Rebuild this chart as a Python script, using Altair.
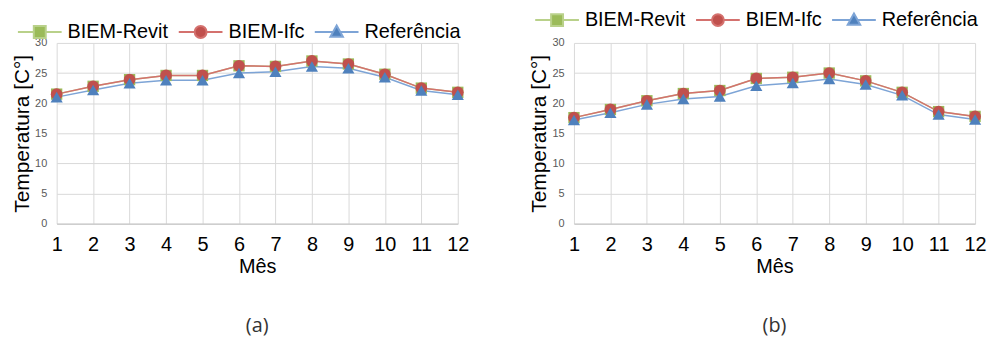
import altair as alt
import pandas as pd

months = list(range(1, 13))
series = ["BIEM-Revit", "BIEM-Ifc", "Referência"]

a_revit = [21.5, 22.8, 23.9, 24.6, 24.6, 26.2, 26.1, 27.0, 26.5, 24.8, 22.5, 21.8]
a_ifc = [21.5, 22.8, 23.9, 24.6, 24.6, 26.2, 26.1, 27.0, 26.5, 24.8, 22.5, 21.8]
a_ref = [21.0, 22.2, 23.3, 23.8, 23.8, 25.0, 25.2, 26.1, 25.8, 24.3, 22.1, 21.4]

b_revit = [17.6, 18.95, 20.4, 21.6, 22.1, 24.1, 24.3, 25.0, 23.7, 21.8, 18.6, 17.8]
b_ifc = [17.6, 18.95, 20.4, 21.6, 22.1, 24.1, 24.3, 25.0, 23.7, 21.8, 18.6, 17.8]
b_ref = [17.2, 18.4, 19.8, 20.7, 21.1, 22.9, 23.35, 24.0, 23.1, 21.3, 18.1, 17.3]

y_ticks = [0, 5, 10, 15, 20, 25, 30]

marker_colors = ["#9BBB59", "#C0504D", "#4F81BD"]
line_colors = ["#B9D18A", "#D4716E", "#7DA4D6"]
marker_shapes = ["square", "circle", "triangle-up"]
marker_sizes = [130, 140, 150]
legend_paths = [
    "M-1,-1H1V1H-1Z M-3.67,0H-1 M1,0H3.67",
    "M-1,0A1,1 0 1 1 1,0A1,1 0 1 1 -1,0Z M-3.67,0H-1 M1,0H3.67",
    "M0,-1.1L1.05,0.8H-1.05Z M-3.67,0H-0.61 M0.61,0H3.67",
]

FONT = "Liberation Sans"


def panel(values, caption, legend_x, legend_y, width):
    rows = []
    for s, vals in zip(series, values):
        for m, v in zip(months, vals):
            rows.append({"month": m, "value": v, "series": s})
    df = pd.DataFrame(rows)
    base = alt.Chart(df)
    x = alt.X(
        "month:Q",
        scale=alt.Scale(domain=[1, 12], nice=False, zero=False),
        axis=alt.Axis(
            values=months, title="Mês", grid=True, gridColor="#D9D9D9",
            domainColor="#BFBFBF", ticks=False, labelFontSize=20, labelFont=FONT,
            labelColor="black", labelPadding=11, titleFontSize=20, titleFont=FONT,
            titleFontWeight="normal", titleColor="black", titlePadding=2,
            labelFlush=False,
        ),
    )
    y = alt.Y(
        "value:Q",
        scale=alt.Scale(domain=[0, 30], nice=False),
        axis=alt.Axis(
            values=y_ticks, title="Temperatura [C°]", grid=True, gridColor="#D9D9D9",
            domain=False, ticks=False, labelFontSize=11, labelFont=FONT,
            labelColor="#595959", labelPadding=10, titleFontSize=21, titleFont=FONT,
            titleFontWeight="normal", titleColor="black", titlePadding=2,
        ),
    )
    layers = []
    for s, lc in zip(series, line_colors):
        layers.append(
            base.transform_filter(alt.datum.series == s)
            .mark_line(color=lc, strokeWidth=1.5)
            .encode(x=x, y=y)
        )
    for s, mc, sh, sz in zip(series, marker_colors, marker_shapes, marker_sizes):
        layers.append(
            base.transform_filter(alt.datum.series == s)
            .mark_point(filled=True, shape=sh, size=sz, color=mc, opacity=1)
            .encode(x=x, y=y)
        )
    leg = alt.Legend(
        orient="none", legendX=legend_x, legendY=legend_y, direction="horizontal",
        columns=3, title=None, labelFontSize=20, labelFont=FONT, labelColor="black",
        symbolSize=144, labelOffset=18, columnPadding=5, padding=0,
        symbolStrokeWidth=2, symbolOpacity=1,
    )
    layers.append(
        base.transform_filter("false")
        .mark_point(filled=True, size=144, opacity=1, strokeWidth=2)
        .encode(
            x=x, y=y,
            fill=alt.Fill("series:N", scale=alt.Scale(domain=series, range=marker_colors), legend=leg),
            stroke=alt.Stroke("series:N", scale=alt.Scale(domain=series, range=line_colors), legend=leg),
            shape=alt.Shape("series:N", scale=alt.Scale(domain=series, range=legend_paths), legend=leg),
        )
    )
    return alt.layer(*layers).resolve_scale(
        fill="independent", stroke="independent", shape="independent"
    ).properties(
        width=width, height=182,
        title=alt.TitleParams(
            caption, orient="bottom", anchor="middle", font="Open Sans", fontSize=20,
            fontWeight="normal", color="#333333", offset=40,
        ),
    )


pa = panel([a_revit, a_ifc, a_ref], "(a)", -27, -21, 404)
pb = panel([b_revit, b_ifc, b_ref], "(b)", -27, -33, 404)

chart = (
    alt.hconcat(pa, pb, spacing=59)
    .resolve_scale(fill="independent", stroke="independent", shape="independent")
    .configure_view(stroke=None)
    .properties(background="white", padding={"left": 3, "top": 1, "right": 0, "bottom": 0})
)

chart.save("out.html", embed_options={"renderer": "svg", "actions": False})
